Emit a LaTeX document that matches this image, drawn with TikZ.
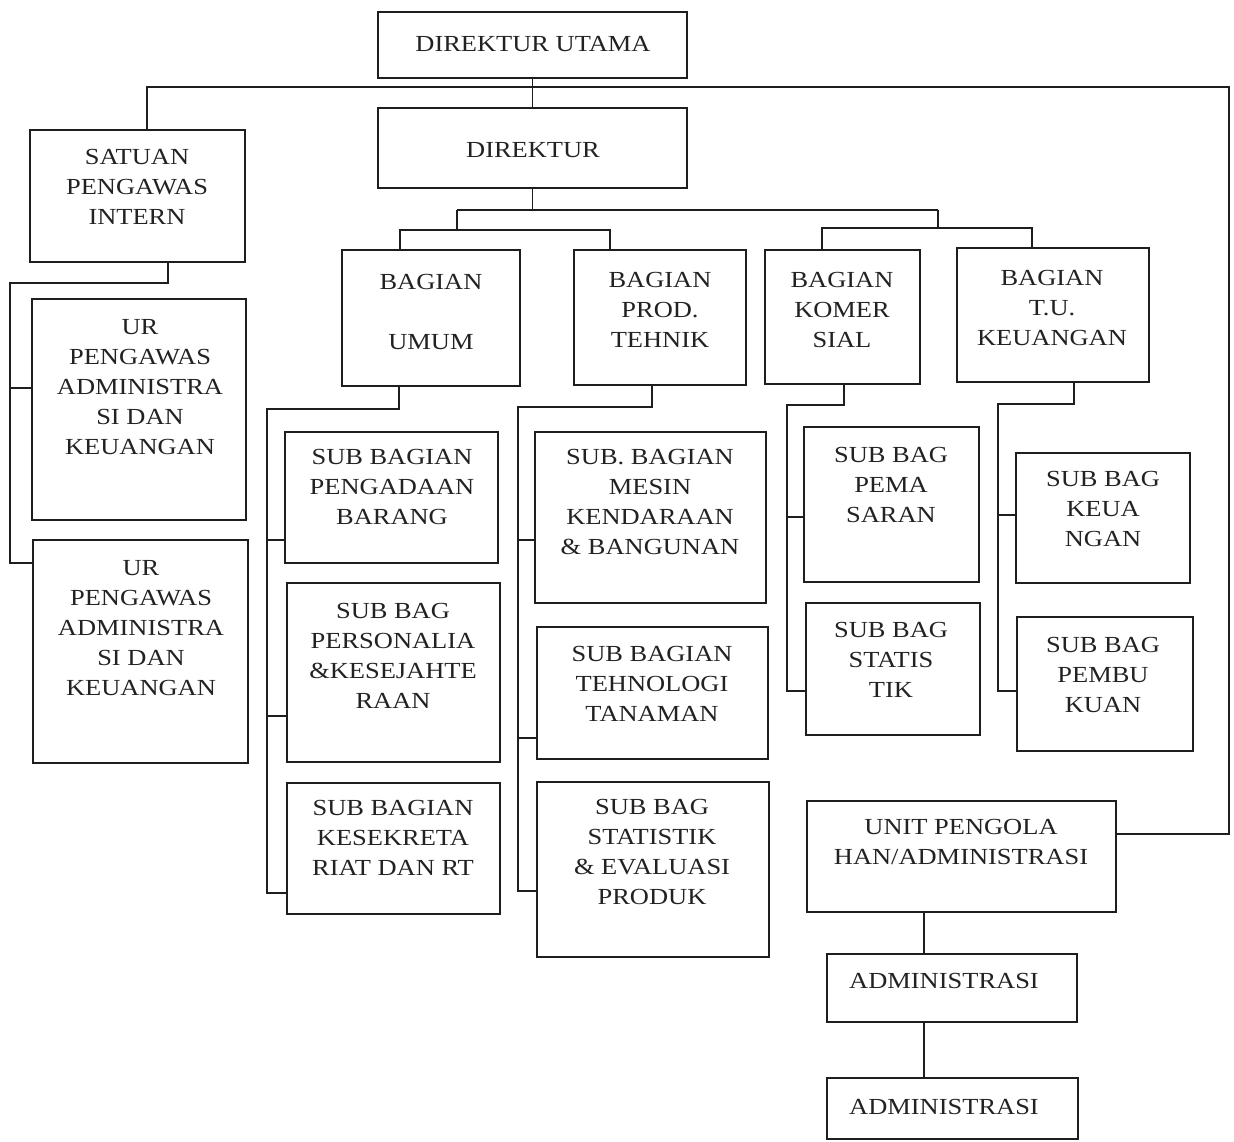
\documentclass[tikz,border=0pt]{standalone}
\usepackage{fontspec}
\setmainfont{Liberation Serif}[FakeStretch=1.15]
\definecolor{linec}{HTML}{1E1E1E}
\definecolor{textc}{HTML}{222222}
\newcommand\orgbox[5]{\node[box,minimum width=#4*0.5pt,minimum height=#5*0.5pt] (#1) at (#2,#3) {};}
\begin{document}
\begin{tikzpicture}[x=0.5pt,y=-0.5pt,
  box/.style={draw=linec,line width=0.9pt,inner sep=0pt,fill=none},
  txt/.style={align=center,inner sep=0pt,text=textc,font=\fontsize{11.5}{15}\selectfont},
  conn/.style={draw=linec,line width=0.9pt}]
\useasboundingbox[fill=white] (0,0) rectangle (1234,1141);

% boxes
\orgbox{du}{532.5}{45}{309}{66}
\orgbox{dir}{532.5}{148}{309}{80}
\orgbox{spi}{137.5}{196}{215}{132}
\orgbox{umum}{431}{318}{178}{136}
\orgbox{prod}{660}{317.5}{172}{135}
\orgbox{kom}{842.5}{317}{155}{134}
\orgbox{tu}{1053}{315}{192}{134}
\orgbox{ur1}{139}{409.5}{214}{221}
\orgbox{ur2}{140.5}{651.5}{215}{223}
\orgbox{peng}{391.5}{497.5}{213}{131}
\orgbox{pers}{393.5}{672.5}{213}{179}
\orgbox{kes}{393.5}{848.5}{213}{131}
\orgbox{mesin}{650.5}{517.5}{231}{171}
\orgbox{tekno}{652.5}{693}{231}{132}
\orgbox{statp}{653}{869.5}{232}{175}
\orgbox{pema}{891.5}{504.5}{175}{155}
\orgbox{tik}{893}{669}{174}{132}
\orgbox{keu}{1103}{518}{174}{130}
\orgbox{pembu}{1105}{684}{176}{134}
\orgbox{unit}{961.5}{856.5}{309}{111}
\orgbox{adm1}{952}{988}{250}{68}
\orgbox{adm2}{952.5}{1108.5}{251}{61}

% texts
\node[txt] (t-du) at (533,44) {DIREKTUR UTAMA};
\node[txt] (t-dir) at (533,150) {DIREKTUR};
\node[txt] (t-spi) at (137,187) {SATUAN\\PENGAWAS\\INTERN};
\node[txt] (t-umum) at (431,312) {BAGIAN\\[15pt]UMUM};
\node[txt] (t-prod) at (660,310) {BAGIAN\\PROD.\\TEHNIK};
\node[txt] (t-kom) at (842,310) {BAGIAN\\KOMER\\SIAL};
\node[txt] (t-tu) at (1052,308) {BAGIAN\\T.U.\\KEUANGAN};
\node[txt] (t-ur1) at (140,387) {UR\\PENGAWAS\\ADMINISTRA\\SI DAN\\KEUANGAN};
\node[txt] (t-ur2) at (141,628) {UR\\PENGAWAS\\ADMINISTRA\\SI DAN\\KEUANGAN};
\node[txt] (t-peng) at (392,487) {SUB BAGIAN\\PENGADAAN\\BARANG};
\node[txt] (t-pers) at (393,656) {SUB BAG\\PERSONALIA\\\&KESEJAHTE\\RAAN};
\node[txt] (t-kes) at (393,838) {SUB BAGIAN\\KESEKRETA\\RIAT DAN RT};
\node[txt] (t-mesin) at (650,502) {SUB. BAGIAN\\MESIN\\KENDARAAN\\\& BANGUNAN};
\node[txt] (t-tekno) at (652,684) {SUB BAGIAN\\TEHNOLOGI\\TANAMAN};
\node[txt] (t-statp) at (652,852) {SUB BAG\\STATISTIK\\\& EVALUASI\\PRODUK};
\node[txt] (t-pema) at (891,485) {SUB BAG\\PEMA\\SARAN};
\node[txt] (t-tik) at (891,660) {SUB BAG\\STATIS\\TIK};
\node[txt] (t-keu) at (1103,509) {SUB BAG\\KEUA\\NGAN};
\node[txt] (t-pembu) at (1103,675) {SUB BAG\\PEMBU\\KUAN};
\node[txt] (t-unit) at (961,842) {UNIT PENGOLA\\HAN/ADMINISTRASI};
\node[txt] (t-adm1) at (944,981) {ADMINISTRASI};
\node[txt] (t-adm2) at (944,1107) {ADMINISTRASI};

% connector coordinates
\coordinate (tl) at (147,87);
\coordinate (tr) at (1229,87);
\coordinate (br) at (1229,834);
\coordinate (b1) at (457,210);
\coordinate (b2) at (938,210);
\coordinate (l1) at (400,230);
\coordinate (l2) at (610,230);
\coordinate (r1) at (822,228);
\coordinate (r2) at (1032,228);
\coordinate (s1) at (168,283);
\coordinate (s2) at (10,283);
\coordinate (s3) at (10,563);
\coordinate (s4) at (10,388);
\coordinate (u1) at (399,409);
\coordinate (u2) at (267,409);
\coordinate (u3) at (267,893);
\coordinate (u4) at (267,540);
\coordinate (u5) at (267,716);
\coordinate (p1) at (652,407);
\coordinate (p2) at (518,407);
\coordinate (p3) at (518,891);
\coordinate (p4) at (518,540);
\coordinate (p5) at (518,738);
\coordinate (k1) at (844,405);
\coordinate (k2) at (787,405);
\coordinate (k3) at (787,691);
\coordinate (k4) at (787,517);
\coordinate (q1) at (1074,404);
\coordinate (q2) at (998,404);
\coordinate (q3) at (998,691);
\coordinate (q4) at (998,515);
\coordinate (a1) at (924,0);

% connectors
\draw[conn] (du.south) -- (dir.north);
\draw[conn] (spi.north -| tl) -- (tl) -- (tr) -- (br) -- (unit.east |- br);
\draw[conn] (dir.south) -- (dir.south |- b1);
\draw[conn] (b1) -- (b2);
\draw[conn] (b1) -- (b1 |- l1);
\draw[conn] (umum.north -| l1) -- (l1) -- (l2) -- (prod.north -| l2);
\draw[conn] (b2) -- (b2 |- r1);
\draw[conn] (kom.north -| r1) -- (r1) -- (r2) -- (tu.north -| r2);
\draw[conn] (spi.south -| s1) -- (s1) -- (s2) -- (s3) -- (ur2.west |- s3);
\draw[conn] (s4) -- (ur1.west |- s4);
\draw[conn] (umum.south -| u1) -- (u1) -- (u2) -- (u3) -- (kes.west |- u3);
\draw[conn] (u4) -- (peng.west |- u4);
\draw[conn] (u5) -- (pers.west |- u5);
\draw[conn] (prod.south -| p1) -- (p1) -- (p2) -- (p3) -- (statp.west |- p3);
\draw[conn] (p4) -- (mesin.west |- p4);
\draw[conn] (p5) -- (tekno.west |- p5);
\draw[conn] (kom.south -| k1) -- (k1) -- (k2) -- (k3) -- (tik.west |- k3);
\draw[conn] (k4) -- (pema.west |- k4);
\draw[conn] (tu.south -| q1) -- (q1) -- (q2) -- (q3) -- (pembu.west |- q3);
\draw[conn] (q4) -- (keu.west |- q4);
\draw[conn] (unit.south -| a1) -- (adm1.north -| a1);
\draw[conn] (adm1.south -| a1) -- (adm2.north -| a1);
\end{tikzpicture}
\end{document}
